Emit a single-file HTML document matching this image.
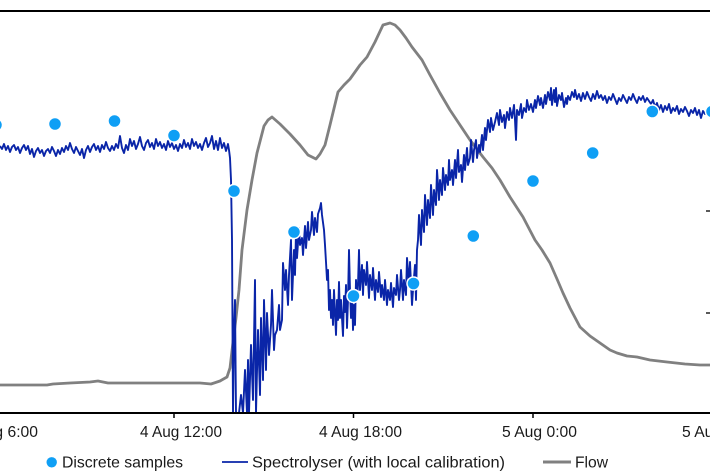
<!DOCTYPE html>
<html>
<head>
<meta charset="utf-8">
<style>
html,body{margin:0;padding:0;background:#fff;}
svg{display:block;}
text{font-family:"Liberation Sans",Arial,sans-serif;fill:#1a1a1a;}
</style>
</head>
<body>
<svg width="710" height="473" viewBox="0 0 710 473" xmlns="http://www.w3.org/2000/svg">
<defs>
<clipPath id="plot"><rect x="0" y="11" width="710" height="401"/></clipPath>
</defs>
<rect width="710" height="473" fill="#fff"/>
<line x1="0" y1="11" x2="710" y2="11" stroke="#000" stroke-width="2"/>
<line x1="706" y1="211" x2="710" y2="211" stroke="#000" stroke-width="1.3"/>
<line x1="706" y1="313" x2="710" y2="313" stroke="#000" stroke-width="1.3"/>
<line x1="706" y1="111" x2="710" y2="111" stroke="#000" stroke-width="1.3"/>

<g clip-path="url(#plot)">
<polyline fill="none" stroke="#808080" stroke-width="2.8" stroke-linejoin="round" points="0,385 47,385 53,384 70,383 90,382 98,381 108,383 200,383 211,384 220,381 227,377 230,368 233,342 236,318 239,290 242,250 247,210 252,180 257,153 264,126 268,120 272,117 280,124 290,134 300,145 308,155 316,159 320,154 325,145 330,125 338,92 344,85 350,79 360,65 367,57 375,42 383,25 390,23 395,25 400,30 406,38 412,47 422,60 430,75 440,93 450,110 460,125 470,140 483,157 492,168 500,180 510,197 523,217 535,240 542,250 550,263 557,279 563,293 570,308 580,327 590,336 600,343 610,350 617,353 627,356 637,357 650,360 667,362 685,364 700,365 710,365"/>
<polyline fill="none" stroke="#0a25a8" stroke-width="1.9" stroke-linejoin="round" points="0,146 2,149 4,144 6,150 8,146 10,152 12,147 14,145 16,150 18,147 20,153 22,148 24,145 26,150 28,146 30,154 32,149 34,157 36,151 38,148 40,153 42,150 44,156 46,151 48,149 50,153 52,147 54,151 56,156 58,150 60,154 62,148 64,152 66,146 68,150 70,143 72,149 74,153 76,147 78,151 80,155 82,149 84,158 86,150 88,146 90,152 92,147 94,144 96,150 98,146 100,152 102,145 104,149 106,142 108,148 110,151 112,146 114,150 116,144 118,148 120,136 122,148 124,153 126,145 128,150 130,139 132,146 134,141 136,149 138,144 140,137 142,146 144,150 146,143 148,140 150,147 152,143 154,149 156,139 158,146 160,142 162,148 164,144 166,150 168,141 170,147 172,143 174,149 176,145 178,151 180,144 182,148 184,140 186,147 188,143 190,149 192,139 194,146 196,142 198,148 200,144 202,150 204,143 206,138 208,147 210,143 212,136 214,149 216,141 218,150 220,138 222,148 224,143 226,151 228,144 229,150 230,158 231,180 232,240 233,413 234,330 235,300 236,413 237,413 239,413 241,395 243,413 245,370 247,413 248,360 249,413 251,345 253,400 255,280 256,413 258,330 260,395 261,318 263,380 264,300 266,370 267,313 269,355 271,325 272,290 274,350 275,335 277,330 279,305 280,330 282,320 283,263 285,290 286,270 288,305 289,275 291,240 292,300 294,250 295,275 296,232 297,258 299,228 300,245 302,238 303,255 305,226 306,248 308,222 309,240 311,230 312,212 314,235 315,218 317,232 318,214 320,208 321,203 322,215 324,230 325,245 326,262 327,280 328,270 329,310 330,290 331,318 332,300 333,325 334,290 336,335 337,300 338,320 339,282 340,318 341,300 343,336 344,296 345,312 346,285 347,328 348,300 349,250 350,290 351,318 352,290 353,330 354,305 355,325 356,280 357,300 358,285 359,250 360,290 362,265 363,295 364,270 366,285 367,262 369,298 370,275 372,290 373,268 375,300 376,280 378,292 379,272 381,297 382,285 384,300 385,280 387,305 388,290 390,300 391,283 393,307 394,288 396,295 397,275 399,300 400,290 401,270 403,300 404,280 406,295 407,258 409,285 410,262 412,305 413,290 415,265 416,300 417,250 418,240 419,215 421,245 422,210 424,232 425,195 427,225 428,200 430,218 431,185 433,215 434,190 436,205 437,170 439,200 440,180 442,195 443,168 445,190 446,175 448,185 449,160 450,180 452,170 453,185 455,160 456,178 458,150 459,172 461,165 462,182 464,155 465,170 467,148 468,165 470,158 471,140 473,162 474,150 476,140 477,158 479,145 480,152 482,135 483,150 485,128 486,140 488,120 490,132 491,118 493,130 495,122 497,113 499,125 500,110 502,122 504,115 505,128 507,112 509,120 510,108 512,118 514,105 515,120 516,140 517,110 519,115 521,104 522,118 524,108 526,112 527,100 529,110 531,104 533,112 535,100 536,108 538,96 540,105 541,98 543,108 545,95 546,104 548,92 550,100 551,88 552,105 554,90 555,102 556,88 557,106 559,95 561,100 562,93 564,107 566,98 567,104 568,96 570,100 572,92 574,97 575,90 577,99 579,94 581,101 583,93 585,99 587,92 589,97 591,101 593,94 595,99 597,91 599,98 601,95 603,100 605,96 607,103 609,97 611,100 613,94 615,99 617,104 619,98 621,101 623,95 625,99 627,103 629,97 631,100 633,94 635,99 637,103 639,97 641,100 643,96 645,102 647,98 649,101 651,104 653,100 655,107 657,103 659,110 661,105 663,112 665,106 667,110 669,104 671,113 673,108 675,111 677,106 679,114 681,109 683,112 685,107 687,111 689,116 691,110 693,113 695,108 697,115 699,110 701,118 703,111 705,114 707,109 709,113 710,111"/>
</g>

<g fill="#0f9ff5" stroke="#fff" stroke-width="1.5">
<circle cx="-4" cy="125" r="6.5"/>
<circle cx="55" cy="124" r="6.5"/>
<circle cx="114.5" cy="121" r="6.5"/>
<circle cx="174" cy="135.5" r="6.5"/>
<circle cx="234" cy="191" r="6.5"/>
<circle cx="294" cy="232" r="6.5"/>
<circle cx="353.5" cy="296" r="6.5"/>
<circle cx="413.5" cy="283.5" r="6.5"/>
<circle cx="473.3" cy="236" r="6.5"/>
<circle cx="533" cy="181" r="6.5"/>
<circle cx="592.7" cy="153" r="6.5"/>
<circle cx="652.3" cy="111.5" r="6.5"/>
<circle cx="712" cy="111.5" r="6.5"/>
</g>

<line x1="0" y1="413" x2="710" y2="413" stroke="#000" stroke-width="2"/>
<g stroke="#000" stroke-width="1.5">
<line x1="174" y1="413" x2="174" y2="418"/>
<line x1="353.5" y1="413" x2="353.5" y2="418"/>
<line x1="533" y1="413" x2="533" y2="418"/>
</g>
<g font-size="16">
<text x="-37" y="437" textLength="75" lengthAdjust="spacingAndGlyphs">4 Aug 6:00</text>
<text x="140" y="437" textLength="82" lengthAdjust="spacingAndGlyphs">4 Aug 12:00</text>
<text x="319" y="437" textLength="83" lengthAdjust="spacingAndGlyphs">4 Aug 18:00</text>
<text x="502" y="437" textLength="75" lengthAdjust="spacingAndGlyphs">5 Aug 0:00</text>
<text x="682" y="437" textLength="75" lengthAdjust="spacingAndGlyphs">5 Aug 6:00</text>
</g>

<circle cx="51.7" cy="462.3" r="5.2" fill="#0f9ff5"/>
<text x="62" y="467.5" font-size="16" textLength="121" lengthAdjust="spacingAndGlyphs">Discrete samples</text>
<line x1="222" y1="462" x2="248" y2="462" stroke="#0a25a8" stroke-width="1.8"/>
<text x="252" y="467.5" font-size="16" textLength="253" lengthAdjust="spacingAndGlyphs">Spectrolyser (with local calibration)</text>
<line x1="543" y1="462" x2="571" y2="462" stroke="#808080" stroke-width="3"/>
<text x="575" y="467.5" font-size="16" textLength="33" lengthAdjust="spacingAndGlyphs">Flow</text>
</svg>
</body>
</html>
